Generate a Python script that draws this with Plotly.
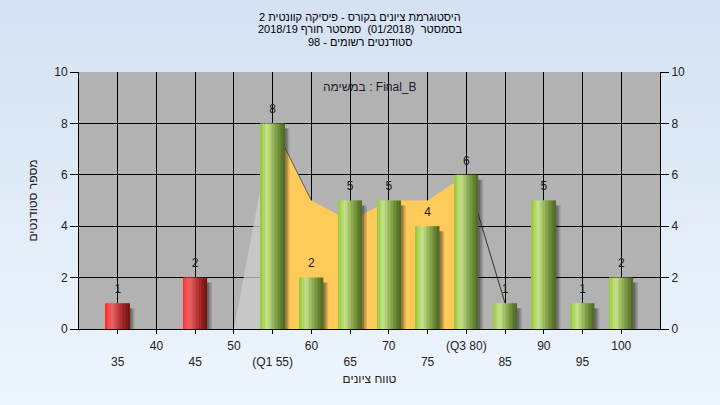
import plotly.graph_objects as go

# ---------------- data ----------------
categories = [35, 40, 45, 50, 55, 60, 65, 70, 75, 80, 85, 90, 95, 100]
counts = [1, 0, 2, 0, 8, 2, 5, 5, 4, 6, 1, 5, 1, 2]
tick_text = ["<br>35", "40", "<br>45", "50", "<br>(Q1 55)", "60", "<br>65",
             "70", "<br>75", "(Q3 80)", "<br>85", "90", "<br>95", "100"]
curve_x = [50, 55, 60, 65, 70, 75, 80, 85]
curve_y = [0, 8, 5, 4.2, 5, 5, 6, 1]
q1, q3 = 55, 80
pass_mark = 55

title_lines = ["היסטוגרמת ציונים בקורס - פיסיקה קוונטית 2",
               "בסמסטר  (01/2018)  סמסטר חורף 2018/19",
               "סטודנטים רשומים - 98"]
subtitle = "במשימה : Final_B"
x_title = "טווח ציונים"
y_title = "מספר סטודנטים"

# ---------------- layout geometry ----------------
W, H = 720, 405
ML, MR, MT, MB = 79, 60, 72, 76
PW, PH = W - ML - MR, H - MT - MB
FONT = "Liberation Sans, Arial, DejaVu Sans, sans-serif"

def px_x(px):
    return (px - ML) / PW

def px_y(py):
    return (H - MB - py) / PH

fig = go.Figure()

# ---------------- background area curve (base subplot, under the bars) ----------------
lx = [x for x in curve_x if x <= q1]
ly = [y for x, y in zip(curve_x, curve_y) if x <= q1]
fig.add_trace(go.Scatter(x=lx, y=ly, mode="lines", fill="tozeroy",
                         fillcolor="rgba(205,205,205,0.75)",
                         line=dict(width=0), hoverinfo="skip", showlegend=False))
mx = [x for x in curve_x if q1 <= x <= q3]
my = [y for x, y in zip(curve_x, curve_y) if q1 <= x <= q3]
fig.add_trace(go.Scatter(x=mx, y=my, mode="lines", fill="tozeroy",
                         fillcolor="#FECB5B", line=dict(width=0),
                         hoverinfo="skip", showlegend=False))
fig.add_trace(go.Scatter(x=mx[:2], y=my[:2], mode="lines",
                         line=dict(width=1, color="rgba(70,70,70,0.8)"),
                         hoverinfo="skip", showlegend=False))
rx = [x for x in curve_x if x >= q3]
ry = [y for x, y in zip(curve_x, curve_y) if x >= q3]
fig.add_trace(go.Scatter(x=rx, y=ry, mode="lines",
                         line=dict(width=1, color="#333333"),
                         hoverinfo="skip", showlegend=False))

# ---------------- bars (overlay subplot y2, drawn above the area) ----------------
bw = 3.05
px = 75.0 / PW          # one pixel in x units
py = 10.0 / PH          # one pixel in y units
nz_x = [c for c, v in zip(categories, counts) if v > 0]
nz_v = [v for v in counts if v > 0]

for dx, alpha in [(5 * px, 0.15), (3.5 * px, 0.2), (2 * px, 0.25)]:
    fig.add_trace(go.Bar(x=nz_x, y=[v - 5 * py + 0.5 for v in nz_v],
                         base=[-0.5] * len(nz_v), width=bw, yaxis="y2",
                         offset=-bw / 2 + dx,
                         marker=dict(color=f"rgba(30,30,30,{alpha})", line=dict(width=0)),
                         hoverinfo="skip", showlegend=False))

green_stops = [(0.0, (150, 198, 55)), (0.12, (172, 210, 92)), (0.3, (198, 225, 140)),
               (0.55, (148, 178, 88)), (0.8, (108, 138, 55)), (1.0, (78, 102, 36))]
red_stops = [(0.0, (255, 35, 35)), (0.12, (252, 75, 75)), (0.3, (232, 100, 100)),
             (0.55, (190, 60, 60)), (0.8, (148, 32, 32)), (1.0, (112, 18, 18))]

def grad(stops, t):
    for (t0, c0), (t1, c1) in zip(stops[:-1], stops[1:]):
        if t0 <= t <= t1:
            f = (t - t0) / (t1 - t0)
            c = [round(a + (b - a) * f) for a, b in zip(c0, c1)]
            return f"rgb({c[0]},{c[1]},{c[2]})"
    c = stops[-1][1]
    return f"rgb({c[0]},{c[1]},{c[2]})"

N = 16
sw = bw / N
for k in range(N):
    t = (k + 0.5) / N
    cols = [grad(red_stops if c < pass_mark else green_stops, t) for c in nz_x]
    fig.add_trace(go.Bar(x=nz_x, y=nz_v, width=sw * 1.05, offset=-bw / 2 + k * sw,
                         yaxis="y2", marker=dict(color=cols, line=dict(width=0)),
                         hoverinfo="skip", showlegend=False))

# value labels (invisible marker pushes the text a little above the bar top)
fig.add_trace(go.Scatter(x=nz_x, y=nz_v, mode="markers+text", text=[str(v) for v in nz_v],
                         textposition="top center", yaxis="y2",
                         marker=dict(size=10, opacity=0),
                         textfont=dict(family=FONT, size=12, color="#1a1a1a"),
                         hoverinfo="skip", showlegend=False))

# ---------------- background shapes ----------------
shapes = []
nb = 40
top_c, bot_c = (213, 226, 243), (237, 245, 253)
for i in range(nb):
    f = i / (nb - 1)
    c = [round(a + (b - a) * f) for a, b in zip(top_c, bot_c)]
    y0 = i * H / nb
    y1 = (i + 1) * H / nb + 0.5
    shapes.append(dict(type="rect", xref="paper", yref="paper", layer="below",
                       x0=px_x(0), x1=px_x(W), y0=px_y(y1), y1=px_y(y0),
                       fillcolor=f"rgb({c[0]},{c[1]},{c[2]})", line=dict(width=0)))
shapes.append(dict(type="rect", xref="paper", yref="paper", layer="below",
                   x0=0, x1=1, y0=0, y1=1, fillcolor="#b2b2b2", line=dict(width=0)))

annotations = []
for line, yc in zip(title_lines, [16.5, 29.5, 42.0]):
    annotations.append(dict(text=line, xref="paper", yref="paper", x=px_x(360), y=px_y(yc),
                            xanchor="center", yanchor="middle", showarrow=False,
                            font=dict(family=FONT, size=11, color="#000000")))
annotations.append(dict(text=subtitle, xref="paper", yref="paper", x=0.5, y=px_y(87),
                        xanchor="center", yanchor="middle", showarrow=False,
                        font=dict(family=FONT, size=12, color="#1a1a2a")))

fig.update_layout(
    width=W, height=H,
    margin=dict(l=ML, r=MR, t=MT, b=MB, pad=0, autoexpand=False),
    paper_bgcolor="#e0eaf7",
    plot_bgcolor="rgba(0,0,0,0)",
    barmode="overlay",
    showlegend=False,
    shapes=shapes,
    annotations=annotations,
    font=dict(family=FONT, size=12, color="#222222"),
    xaxis=dict(range=[30, 105], tickmode="array", tickvals=categories, ticktext=tick_text,
               showgrid=True, gridcolor="black", gridwidth=1, zeroline=False,
               ticks="outside", ticklen=4, tickcolor="black", showline=True,
               linecolor="black", linewidth=1, ticklabelstandoff=2, automargin=False,
               tickfont=dict(family=FONT, size=12, color="#222222"),
               title=dict(text=x_title, font=dict(family=FONT, size=12, color="#222222"), standoff=6)),
    yaxis=dict(range=[0, 10], dtick=2, showgrid=True, gridcolor="black", gridwidth=1,
               zeroline=False, ticks="outside", ticklen=8, tickcolor="black",
               showline=True, linecolor="black", linewidth=1, automargin=False,
               tickfont=dict(family=FONT, size=12, color="#222222"),
               title=dict(text=y_title, font=dict(family=FONT, size=12, color="#222222"), standoff=14)),
    yaxis2=dict(range=[0, 10], dtick=2, overlaying="y", side="right", showgrid=False,
                zeroline=False, ticks="outside", ticklen=8, tickcolor="black",
                showline=True, linecolor="black", linewidth=1, automargin=False,
                tickfont=dict(family=FONT, size=12, color="#222222")),
)

fig.write_html("out.html", config={"displayModeBar": False},
               post_script="document.body.style.margin='0';document.body.style.overflow='hidden';")
